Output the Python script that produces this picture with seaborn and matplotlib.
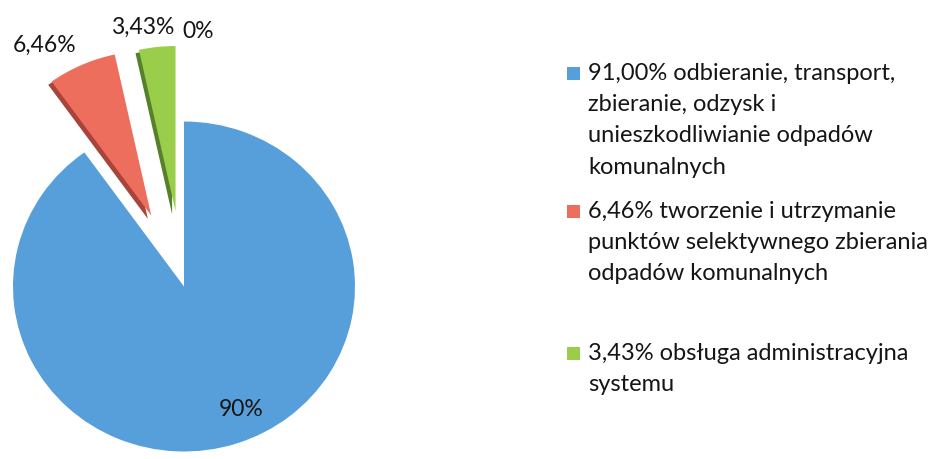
import matplotlib
matplotlib.use("Agg")
import matplotlib.pyplot as plt
from matplotlib.patches import Rectangle
import seaborn as sns

# pie values (as drawn in the chart) and their labels
shares = [90, 6.46, 3.43, 0]
pie_labels = ["90%", "6,46%", "3,43%", "0%"]

legend_texts = [
    "91,00% odbieranie, transport,\nzbieranie, odzysk i\nunieszkodliwianie odpadów\nkomunalnych",
    "6,46% tworzenie i utrzymanie\npunktów selektywnego zbierania\nodpadów komunalnych",
    "3,43% obsługa administracyjna\nsystemu",
]

colors = ["#579fda", "#ee6e5e", "#9acd4a", "#9acd4a"]
side_colors = ["none", "#a9443a", "#56802a", "#56802a"]
explode = [0, 0.47, 0.46, 0.46]

sns.set_theme(style="white")
plt.rcParams["font.family"] = ["Lato", "DejaVu Sans"]

W, H = 945, 460
fig = plt.figure(figsize=(W / 100, H / 100), dpi=100)

# pie centre ~ (184, 287) px, radius ~ 171 x 165 px (slightly tilted look)
cx, cy, rx, ry = 184, 287.5, 171, 165
lim = 1.6
ax = fig.add_axes([(cx - lim * rx) / W, (H - cy - lim * ry) / H,
                   2 * lim * rx / W, 2 * lim * ry / H])

# darker copy underneath for the "thickness" of the exploded slices
ax.pie(shares, colors=side_colors, explode=explode, startangle=90,
       counterclock=False, center=(-0.02, -0.02),
       wedgeprops=dict(linewidth=0))
wedges, texts = ax.pie(shares, labels=pie_labels, colors=colors,
                       explode=explode, startangle=90, counterclock=False,
                       wedgeprops=dict(linewidth=0),
                       textprops=dict(fontsize=16.5, color="#151515"))
ax.set_aspect("auto")
ax.set_xlim(-lim, lim)
ax.set_ylim(-lim, lim)
ax.axis("off")

# move the labels where the original has them
label_px = [(241, 410), (45, 45), (143, 27), (198, 31)]
for t, (px, py) in zip(texts, label_px):
    t.set_position(((px - cx) / rx, (cy - py) / ry))
    t.set_ha("center")
    t.set_va("center")

# legend drawn by hand (uneven spacing as in original)
legend_y = [63, 201, 343]
for txt, col, y in zip(legend_texts, colors, legend_y):
    fig.patches.append(Rectangle((567 / W, 1 - (y + 18) / H), 13 / W, 13 / H,
                                 transform=fig.transFigure, color=col, lw=0))
    fig.text(588 / W, 1 - y / H, txt, ha="left", va="top", fontsize=17,
             color="#151515", linespacing=1.6)

fig.savefig("out.png", dpi=100, facecolor="white")
